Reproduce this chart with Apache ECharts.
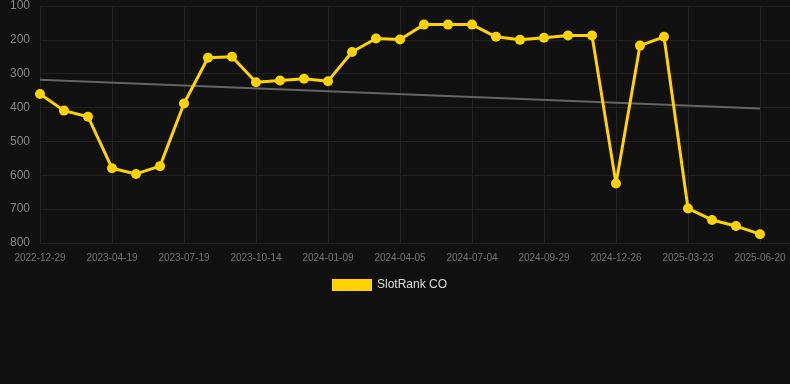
<!DOCTYPE html>
<html><head><meta charset="utf-8">
<script src="https://cdn.jsdelivr.net/npm/echarts@6/dist/echarts.min.js"></script>
<style>html,body{margin:0;padding:0;background:#111;}#c{width:790px;height:384px;}</style>
</head><body><div id="c"></div>
<script>
const categories = ["2022-12-29","2023-01-28","2023-02-27","2023-04-19","2023-05-19","2023-06-18","2023-07-19","2023-08-18","2023-09-14","2023-10-14","2023-11-13","2023-12-10","2024-01-09","2024-02-08","2024-03-06","2024-04-05","2024-05-05","2024-06-04","2024-07-04","2024-08-03","2024-08-30","2024-09-29","2024-10-29","2024-11-26","2024-12-26","2025-01-25","2025-02-21","2025-03-23","2025-04-22","2025-05-21","2025-06-20"];
const rankValues = [360,409,427,579,596,573,388,253,250,325,320,315,322,236,196,199,155,155,155,191,200,194,187,187,624,217,191,698,732,750,774];
const trendEnds = [318,403];
const yTicks = [100,200,300,400,500,600,700,800];

const lastIdx = categories.length - 1;
const rankData = rankValues.map((v,i)=>[i,v]);
const trendData = [[0,trendEnds[0]],[lastIdx,trendEnds[1]]];
const chart = echarts.init(document.getElementById('c'));
chart.setOption({
  backgroundColor:'#111111',
  animation:false,
  grid:{left:40,right:0,top:6,bottom:141},
  legend:{bottom:88,left:327,itemWidth:40,itemHeight:12,itemGap:6,
    textStyle:{color:'#dddddd',fontSize:12,fontFamily:'Liberation Sans, Arial, sans-serif'},
    data:[{name:'SlotRank CO',icon:'rect'}]},
  xAxis:{type:'value',min:0,max:lastIdx+1.25,interval:3,
    axisLine:{show:false},axisTick:{show:false},
    axisLabel:{showMaxLabel:false,color:'#777',fontSize:10,margin:10,fontFamily:'Liberation Sans, Arial, sans-serif',
      formatter:(v)=> (Number.isInteger(v) && categories[v]) ? categories[v] : ''},
    splitLine:{show:true,lineStyle:{color:'#222'}}},
  yAxis:{type:'value',inverse:true,min:yTicks[0],max:yTicks[yTicks.length-1],interval:100,
    axisLine:{show:false},axisTick:{show:false},
    axisLabel:{color:'#888',fontSize:12,margin:10,fontFamily:'Liberation Sans, Arial, sans-serif'},
    splitLine:{lineStyle:{color:'#222'}}},
  series:[
    {name:'trend',type:'line',data:trendData,symbol:'none',
     lineStyle:{color:'#666',width:2},z:1},
    {name:'SlotRank CO',type:'line',data:rankData,symbol:'circle',symbolSize:10,
     itemStyle:{color:'#ffd200'},lineStyle:{color:'#ffd200',width:3},z:2}
  ]
});
</script></body></html>
